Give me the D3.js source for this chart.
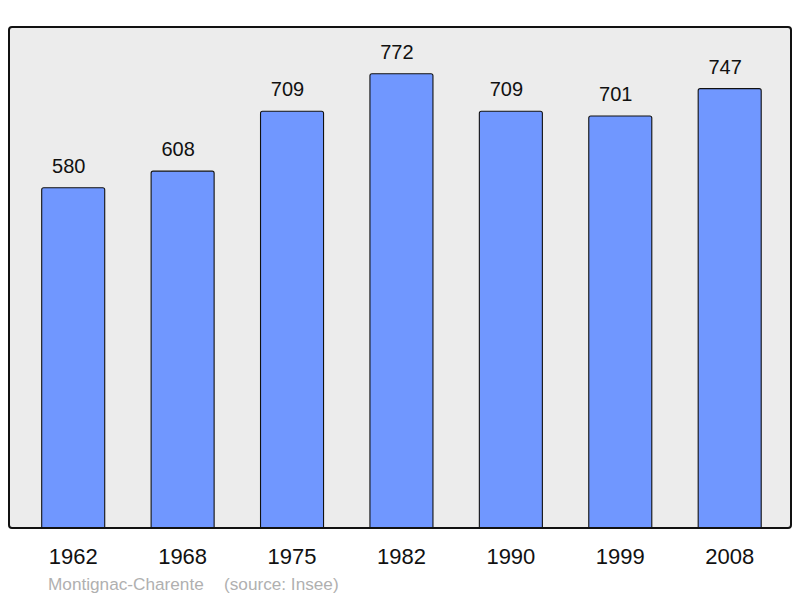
<!DOCTYPE html>
<html><head><meta charset="utf-8">
<script src="https://cdn.jsdelivr.net/npm/d3@7"></script>
<style>body{margin:0;background:#fff}svg{display:block}</style>
</head><body>
<script>
const years = ["1962","1968","1975","1982","1990","1999","2008"];
const population = [580,608,709,772,709,701,747];
const commune = "Montignac-Charente";
const source = "(source: Insee)";

const W = 800, H = 598;
const svg = d3.select("body").append("svg").attr("width", W).attr("height", H);
const font = "'Liberation Sans', Arial, sans-serif";

const frame = {x0: 9, y0: 27, x1: 791, y1: 528};
const x = d3.scaleBand().domain(years).range([18.5, 784.4]).paddingInner(0.424).paddingOuter(0.212);
const y = d3.scaleLinear().domain([0, 850]).range([531.5, 27]);

svg.append("rect").attr("x", frame.x0).attr("y", frame.y0)
  .attr("width", frame.x1 - frame.x0).attr("height", frame.y1 - frame.y0)
  .attr("rx", 3).attr("fill", "#ececec");

const g = svg.append("g");
g.append("clipPath").attr("id","clip").append("rect")
  .attr("x", frame.x0).attr("y", 0).attr("width", frame.x1-frame.x0).attr("height", frame.y1);
g.selectAll("rect.bar").data(years).join("rect").attr("class","bar")
  .attr("clip-path","url(#clip)")
  .attr("x", d => x(d)).attr("width", x.bandwidth())
  .attr("y", (d,i) => y(population[i]) + 0.5)
  .attr("height", (d,i) => y(0) - y(population[i]))
  .attr("rx", 2)
  .attr("fill", "#7097ff").attr("stroke", "#111").attr("stroke-width", 1.1);

g.selectAll("text.val").data(years).join("text").attr("class","val")
  .attr("x", d => x(d) + x.bandwidth()/2 - 4.5)
  .attr("y", (d,i) => y(population[i]) - 14.5)
  .attr("text-anchor","middle").attr("font-family", font).attr("font-size", 20)
  .attr("fill","#111").text((d,i) => population[i]);

svg.append("rect").attr("x", frame.x0).attr("y", frame.y0)
  .attr("width", frame.x1 - frame.x0).attr("height", frame.y1 - frame.y0)
  .attr("rx", 3).attr("fill", "none").attr("stroke", "#111").attr("stroke-width", 2);

const xAxis = d3.axisBottom(x).tickSize(0).tickPadding(0);
const ax = svg.append("g").attr("transform", `translate(0,${frame.y1})`).call(xAxis);
ax.select(".domain").remove();
ax.selectAll("text").attr("font-family", font).attr("font-size", 22).attr("fill", "#111")
  .attr("dy", null).attr("y", 36);

svg.append("text").attr("x", 48).attr("y", 590).attr("font-family", font).attr("font-size", 17.2)
  .attr("fill", "#b0b0b0").text(commune);
svg.append("text").attr("x", 224).attr("y", 590).attr("font-family", font).attr("font-size", 17.2)
  .attr("fill", "#b0b0b0").text(source);
</script>
</body></html>
